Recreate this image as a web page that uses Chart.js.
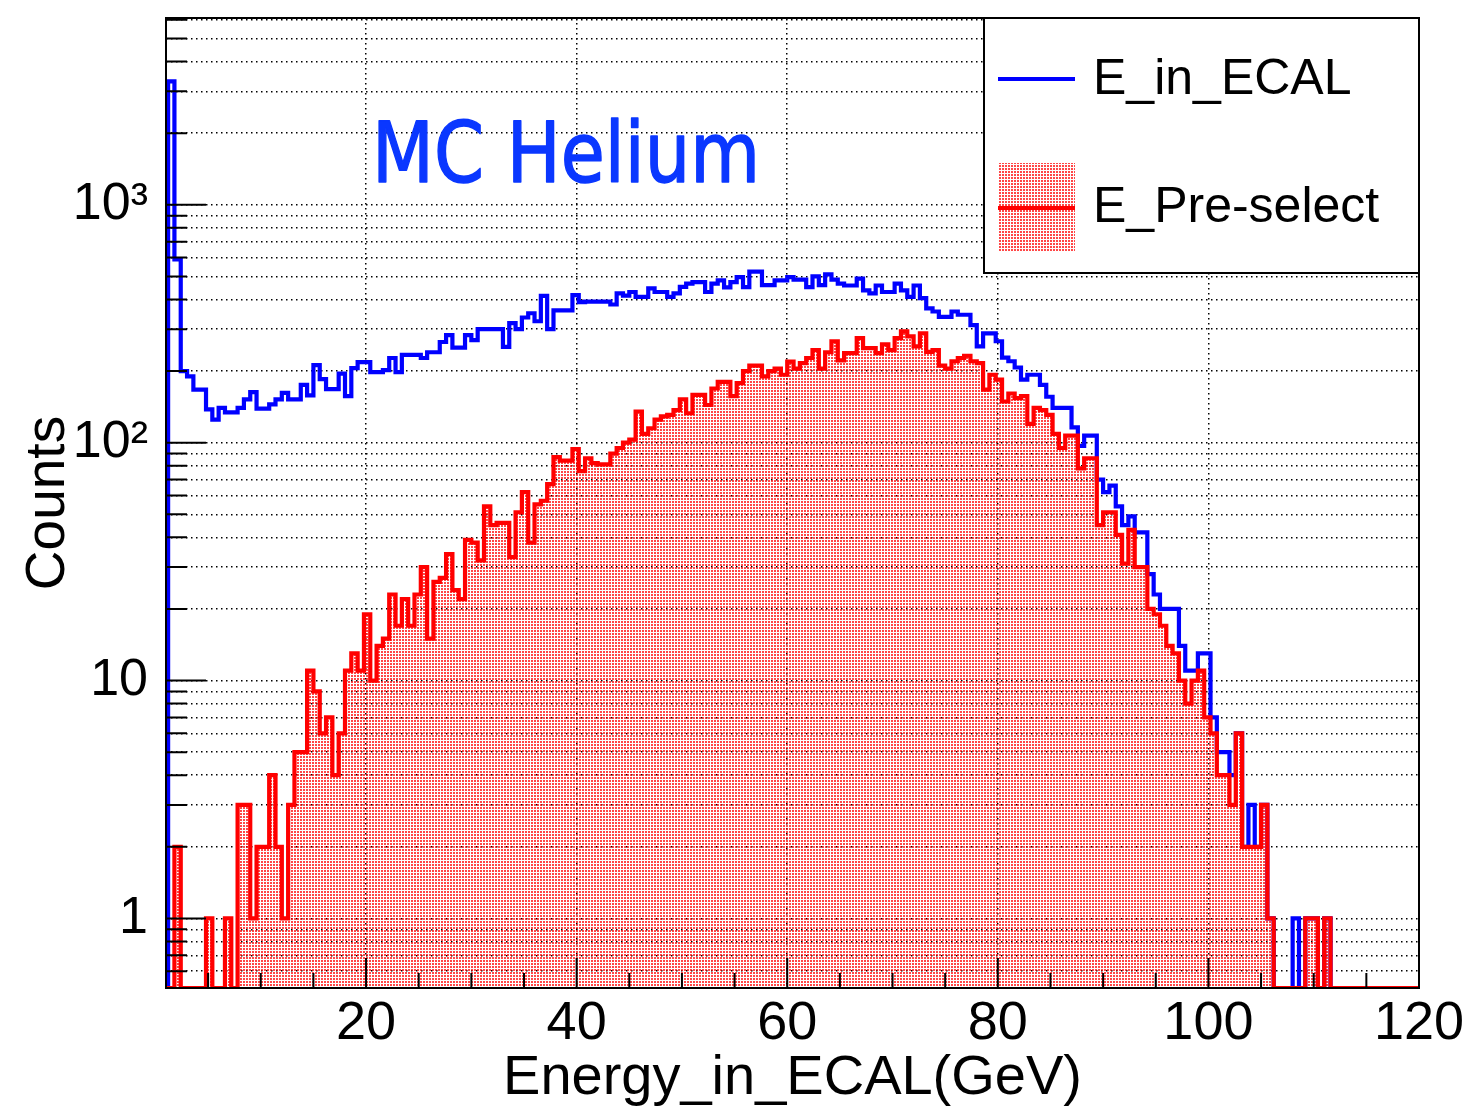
<!DOCTYPE html>
<html>
<head>
<meta charset="utf-8">
<title>MC Helium - Energy in ECAL</title>
<script src="https://cdn.jsdelivr.net/npm/chart.js@4.4.1/dist/chart.umd.min.js"></script>
<style>
  html, body { margin: 0; padding: 0; background: #fff; }
  #wrap { width: 1471px; height: 1107px; }
</style>
</head>
<body>
<div id="wrap"><canvas id="myChart" width="1471" height="1107"></canvas></div>
<script>
// histogram: 0.6 GeV bins, first listed bin is 0.6 - 1.2 GeV, last is 119.4 - 120 GeV
var binStart = 0.6;
var binWidth = 0.6;

var eInEcal = [
    0, 3300, 590, 200, 190, 167, 167, 138, 125, 140,
    134, 134, 140, 152, 163, 139, 139, 145, 152, 162,
    152, 152, 175, 158, 212, 185, 168, 168, 195, 157,
    206, 218, 218, 198, 198, 202, 227, 198, 234, 234,
    234, 227, 240, 240, 265, 283, 251, 251, 283, 270,
    300, 300, 300, 300, 253, 318, 300, 336, 350, 324,
    414, 300, 360, 360, 360, 417, 390, 392, 392, 392,
    392, 381, 424, 415, 430, 410, 410, 445, 430, 430,
    410, 424, 452, 466, 473, 473, 430, 466, 481, 450,
    473, 497, 451, 524, 524, 460, 460, 481, 481, 497,
    485, 485, 451, 500, 460, 510, 485, 466, 458, 458,
    489, 437, 424, 458, 430, 430, 466, 437, 410, 458,
    405, 367, 356, 338, 338, 356, 345, 345, 312, 254,
    288, 288, 267, 228, 220, 207, 184, 193, 193, 175,
    156, 140, 140, 140, 116, 97, 107, 107, 70, 62,
    66, 54, 45, 49, 42, 42, 28, 23, 20, 20,
    20, 14, 11, 11, 13, 13, 7, 5, 5, 4,
    6, 2, 3, 2, 3, 1, 0, 0, 0, 1,
    0, 1, 1, 0, 1, 0, 0, 0, 0, 0,
    0, 0, 0, 0, 0, 0, 0, 0, 0
];

var ePreselect = [
    0, 0, 2, 0, 0, 0, 0, 1, 0, 0,
    1, 0, 3, 3, 1, 2, 2, 4, 2, 1,
    3, 5, 5, 11, 9, 6, 7, 4, 6, 11,
    13, 11, 19, 10, 14, 15, 23, 17, 22, 17,
    23, 30, 15, 26, 27, 34, 24, 22, 39, 38,
    32, 54, 45, 46, 46, 33, 51, 62, 38, 55,
    57, 67, 87, 84, 84, 94, 76, 86, 82, 81,
    81, 90, 95, 100, 103, 135, 109, 115, 125, 129,
    131, 137, 152, 133, 159, 159, 144, 169, 180, 180,
    157, 178, 200, 211, 211, 190, 200, 205, 193, 219,
    205, 216, 227, 245, 205, 240, 267, 222, 238, 238,
    275, 250, 250, 238, 259, 245, 275, 294, 280, 254,
    288, 241, 245, 211, 205, 220, 227, 232, 220, 216,
    167, 193, 184, 149, 161, 154, 157, 120, 140, 137,
    131, 109, 95, 107, 107, 78, 86, 86, 45, 51,
    51, 41, 31, 43, 30, 30, 20, 19, 17, 14,
    13, 10, 8, 10, 11, 7, 6, 4, 4, 3,
    6, 2, 2, 2, 3, 1, 0, 0, 0, 0,
    0, 1, 1, 0, 1, 0, 0, 0, 0, 0,
    0, 0, 0, 0, 0, 0, 0, 0, 0
];

var xTickValues = [20, 40, 60, 80, 100, 120];
var yDecades = [1, 10, 100, 1000];
var yDecadeLabels = ["1", "10", "10\u00b2", "10\u00b3"];
var ySubSteps = [1, 2, 3, 4, 5, 6, 7, 8, 9];

var xMin = 1, xMax = 120;
var yMin = 0.51, yMax = 6100;

var FONT = "'Liberation Sans', Arial, Helvetica, sans-serif";
Chart.defaults.font.family = FONT;
Chart.defaults.color = "#000";

// step outline: one point per bin low edge, empty bins sit on the bottom of the log axis
function histPoints(counts) {
    var pts = [{ x: binStart, y: yMin }];
    for (var i = 0; i < counts.length; i++) {
        pts.push({ x: binStart + i * binWidth, y: Math.max(counts[i], yMin) });
    }
    pts.push({ x: binStart + counts.length * binWidth, y: Math.max(counts[counts.length - 1], yMin) });
    return pts;
}

// all 1..9 x 10^n grid values inside the axis range
function logTicks() {
    var out = [];
    [0.1, 1, 10, 100, 1000].forEach(function (d) {
        ySubSteps.forEach(function (s) {
            var v = Math.round(s * d * 10) / 10;
            if (v >= yMin && v <= yMax) out.push({ value: v });
        });
    });
    return out;
}

// ROOT style dotted fill (red dots)
var patternCanvas = document.createElement("canvas");
patternCanvas.width = 3;
patternCanvas.height = 3;
var pctx = patternCanvas.getContext("2d");
pctx.fillStyle = "rgba(255,0,0,0.72)";
pctx.fillRect(0, 0, 2, 2);
var dotFill = pctx.createPattern(patternCanvas, "repeat");

var rootFrame = {
    id: "rootFrame",
    afterDatasetsDraw: function (chart) {
        var ctx = chart.ctx, area = chart.chartArea;
        var xs = chart.scales.x, ys = chart.scales.y;
        ctx.save();
        ctx.strokeStyle = "#000";
        ctx.lineWidth = 2;
        ctx.beginPath();
        // ticks point into the frame
        ys.ticks.forEach(function (t) {
            var py = ys.getPixelForValue(t.value);
            var len = yDecades.indexOf(t.value) >= 0 ? 40 : 21;
            ctx.moveTo(area.left, py);
            ctx.lineTo(area.left + len, py);
        });
        for (var v = 5; v < xMax; v += 5) {
            var px = xs.getPixelForValue(v);
            var len = (v % 20 === 0) ? 30 : 15;
            ctx.moveTo(px, area.bottom);
            ctx.lineTo(px, area.bottom - len);
        }
        ctx.stroke();
        ctx.strokeRect(area.left, area.top, area.right - area.left, area.bottom - area.top);
        ctx.restore();
    },
    afterDraw: function (chart) {
        var ctx = chart.ctx, area = chart.chartArea;
        var ds = chart.data.datasets;
        ctx.save();

        // legend box in the upper right corner
        var bw = 435, bh = 255;
        var bx = area.right - bw, by = area.top;
        ctx.fillStyle = "#fff";
        ctx.fillRect(bx, by, bw, bh);
        ctx.lineWidth = 2;
        ctx.strokeStyle = "#000";
        ctx.strokeRect(bx, by, bw, bh);

        ctx.lineWidth = 4;
        ctx.strokeStyle = ds[0].borderColor;
        ctx.beginPath();
        ctx.moveTo(bx + 14, by + 61);
        ctx.lineTo(bx + 91, by + 61);
        ctx.stroke();

        ctx.fillStyle = ds[1].backgroundColor;
        ctx.fillRect(bx + 14, by + 145, 77, 89);
        ctx.strokeStyle = ds[1].borderColor;
        ctx.beginPath();
        ctx.moveTo(bx + 14, by + 190);
        ctx.lineTo(bx + 91, by + 190);
        ctx.stroke();

        ctx.fillStyle = "#000";
        ctx.font = "50px " + FONT;
        ctx.textBaseline = "alphabetic";
        ctx.textAlign = "left";
        ctx.fillText(ds[0].label, bx + 109, by + 76);
        ctx.fillText(ds[1].label, bx + 109, by + 204);

        // sample label, fitted to the width it has in the original
        var txt = "MC Helium";
        ctx.font = "84px 'DejaVu Sans'";
        var w = ctx.measureText(txt).width;
        ctx.translate(area.left + 206, area.top + 164);
        ctx.scale(388 / w, 1);
        ctx.fillStyle = "rgb(10,55,255)";
        ctx.strokeStyle = "rgb(10,55,255)";
        ctx.lineWidth = 1.5;
        ctx.lineJoin = "round";
        ctx.fillText(txt, 0, 0);
        ctx.strokeText(txt, 0, 0);
        ctx.restore();
    }
};

var ctx = document.getElementById("myChart").getContext("2d");

var chart = new Chart(ctx, {
    type: "line",
    data: {
        datasets: [{
            label: "E_in_ECAL",
            data: histPoints(eInEcal),
            borderColor: "rgb(0,0,255)",
            borderWidth: 4.2,
            stepped: true,
            fill: false,
            pointRadius: 0,
            order: 1
        }, {
            label: "E_Pre-select",
            data: histPoints(ePreselect),
            borderColor: "rgb(255,0,0)",
            backgroundColor: dotFill,
            borderWidth: 4.2,
            stepped: true,
            fill: "start",
            pointRadius: 0,
            order: 0
        }]
    },
    options: {
        responsive: false,
        animation: false,
        events: [],
        layout: { padding: { left: 0, top: 18, right: 52, bottom: 0 } },
        plugins: {
            legend: { display: false },
            tooltip: { enabled: false }
        },
        scales: {
            x: {
                type: "linear",
                min: xMin,
                max: xMax,
                afterBuildTicks: function (s) {
                    s.ticks = xTickValues.map(function (v) { return { value: v }; });
                },
                afterFit: function (s) {
                    s.height = 119;
                    s.paddingLeft = 0;
                    s.paddingRight = 0;
                },
                grid: { color: "#000", lineWidth: 1.5, drawTicks: false },
                border: { display: false, dash: [1.5, 3.5] },
                ticks: {
                    font: { size: 54 },
                    color: "#000",
                    padding: 4,
                    maxRotation: 0,
                    autoSkip: false
                },
                title: {
                    display: true,
                    text: "Energy_in_ECAL(GeV)",
                    font: { size: 56, lineHeight: 1 },
                    color: "#000",
                    padding: { top: 0, bottom: 0 }
                }
            },
            y: {
                type: "logarithmic",
                min: yMin,
                max: yMax,
                afterBuildTicks: function (s) {
                    s.ticks = logTicks();
                },
                afterFit: function (s) {
                    s.width = 166;
                    s.paddingTop = 0;
                    s.paddingBottom = 0;
                },
                grid: { color: "#000", lineWidth: 1.5, drawTicks: false },
                border: { display: false, dash: [1.5, 3.5] },
                ticks: {
                    font: { size: 52 },
                    color: "#000",
                    padding: 18,
                    autoSkip: false,
                    callback: function (value) {
                        var i = yDecades.indexOf(value);
                        return i >= 0 ? yDecadeLabels[i] : "";
                    }
                },
                title: {
                    display: true,
                    text: "Counts",
                    font: { size: 55, lineHeight: 1 },
                    color: "#000",
                    padding: { top: 21, bottom: 0 }
                }
            }
        }
    },
    plugins: [rootFrame]
});
</script>
</body>
</html>
